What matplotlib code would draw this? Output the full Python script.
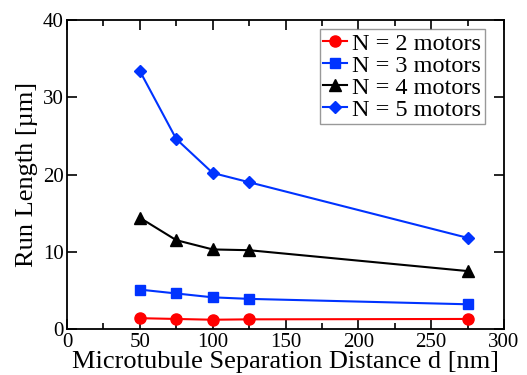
import numpy as np
import matplotlib.pyplot as plt
from matplotlib.ticker import MultipleLocator

# separation distance d [nm]
d = [50, 75, 100, 125, 275]

# run lengths [um]
run_n2 = [1.4, 1.3, 1.2, 1.25, 1.3]
run_n3 = [5.1, 4.6, 4.1, 3.9, 3.2]
run_n4 = [14.4, 11.5, 10.3, 10.2, 7.5]
run_n5 = [33.4, 24.6, 20.2, 19.0, 11.8]

labels = ['N = 2 motors', 'N = 3 motors', 'N = 4 motors', 'N = 5 motors']

plt.rcParams['font.family'] = ['Liberation Serif', 'DejaVu Serif']
plt.rcParams['mathtext.fontset'] = 'stix'

fig = plt.figure(figsize=(5.27, 3.75), dpi=100)
ax = fig.add_axes([67/527, 1 - 329/375, 437/527, 309/375])

ax.plot(d, run_n2, 'o-', color='red', lw=1.5, ms=8, label=labels[0])
ax.plot(d, run_n3, 's-', color='#0033ff', lw=1.5, ms=7, label=labels[1])
ax.plot(d, run_n4, '^-', color='black', lw=1.5, ms=8, label=labels[2])
ax.plot(d, run_n5, 'D-', color='#0033ff', lw=1.5, ms=6.5, label=labels[3])

ax.set_xlim(0, 300)
ax.set_ylim(0, 40)
ax.xaxis.set_major_locator(MultipleLocator(50))
ax.xaxis.set_minor_locator(MultipleLocator(25))
ax.yaxis.set_major_locator(MultipleLocator(10))
ax.tick_params(which='both', direction='in', top=True, right=True, labelsize=15, width=1.2)
ax.tick_params(which='major', length=7)
ax.tick_params(which='minor', length=4)
ax.tick_params(axis='x', pad=3)
ax.tick_params(axis='y', pad=2.5)
for s in ax.spines.values():
    s.set_linewidth(1.3)

ax.set_xlabel('Microtubule Separation Distance d [nm]', fontsize=19, labelpad=-0.5)
ax.set_ylabel('Run Length [µm]', fontsize=19, labelpad=3)

leg = ax.legend(loc='upper right', bbox_to_anchor=(0.9565, 0.971), fontsize=17.5,
                frameon=True, fancybox=False, edgecolor='gray',
                handlelength=1.0, handletextpad=0.2, labelspacing=0.0,
                borderpad=0.15, borderaxespad=0)
leg.get_frame().set_linewidth(1.0)

fig.savefig('out.png', dpi=100)
